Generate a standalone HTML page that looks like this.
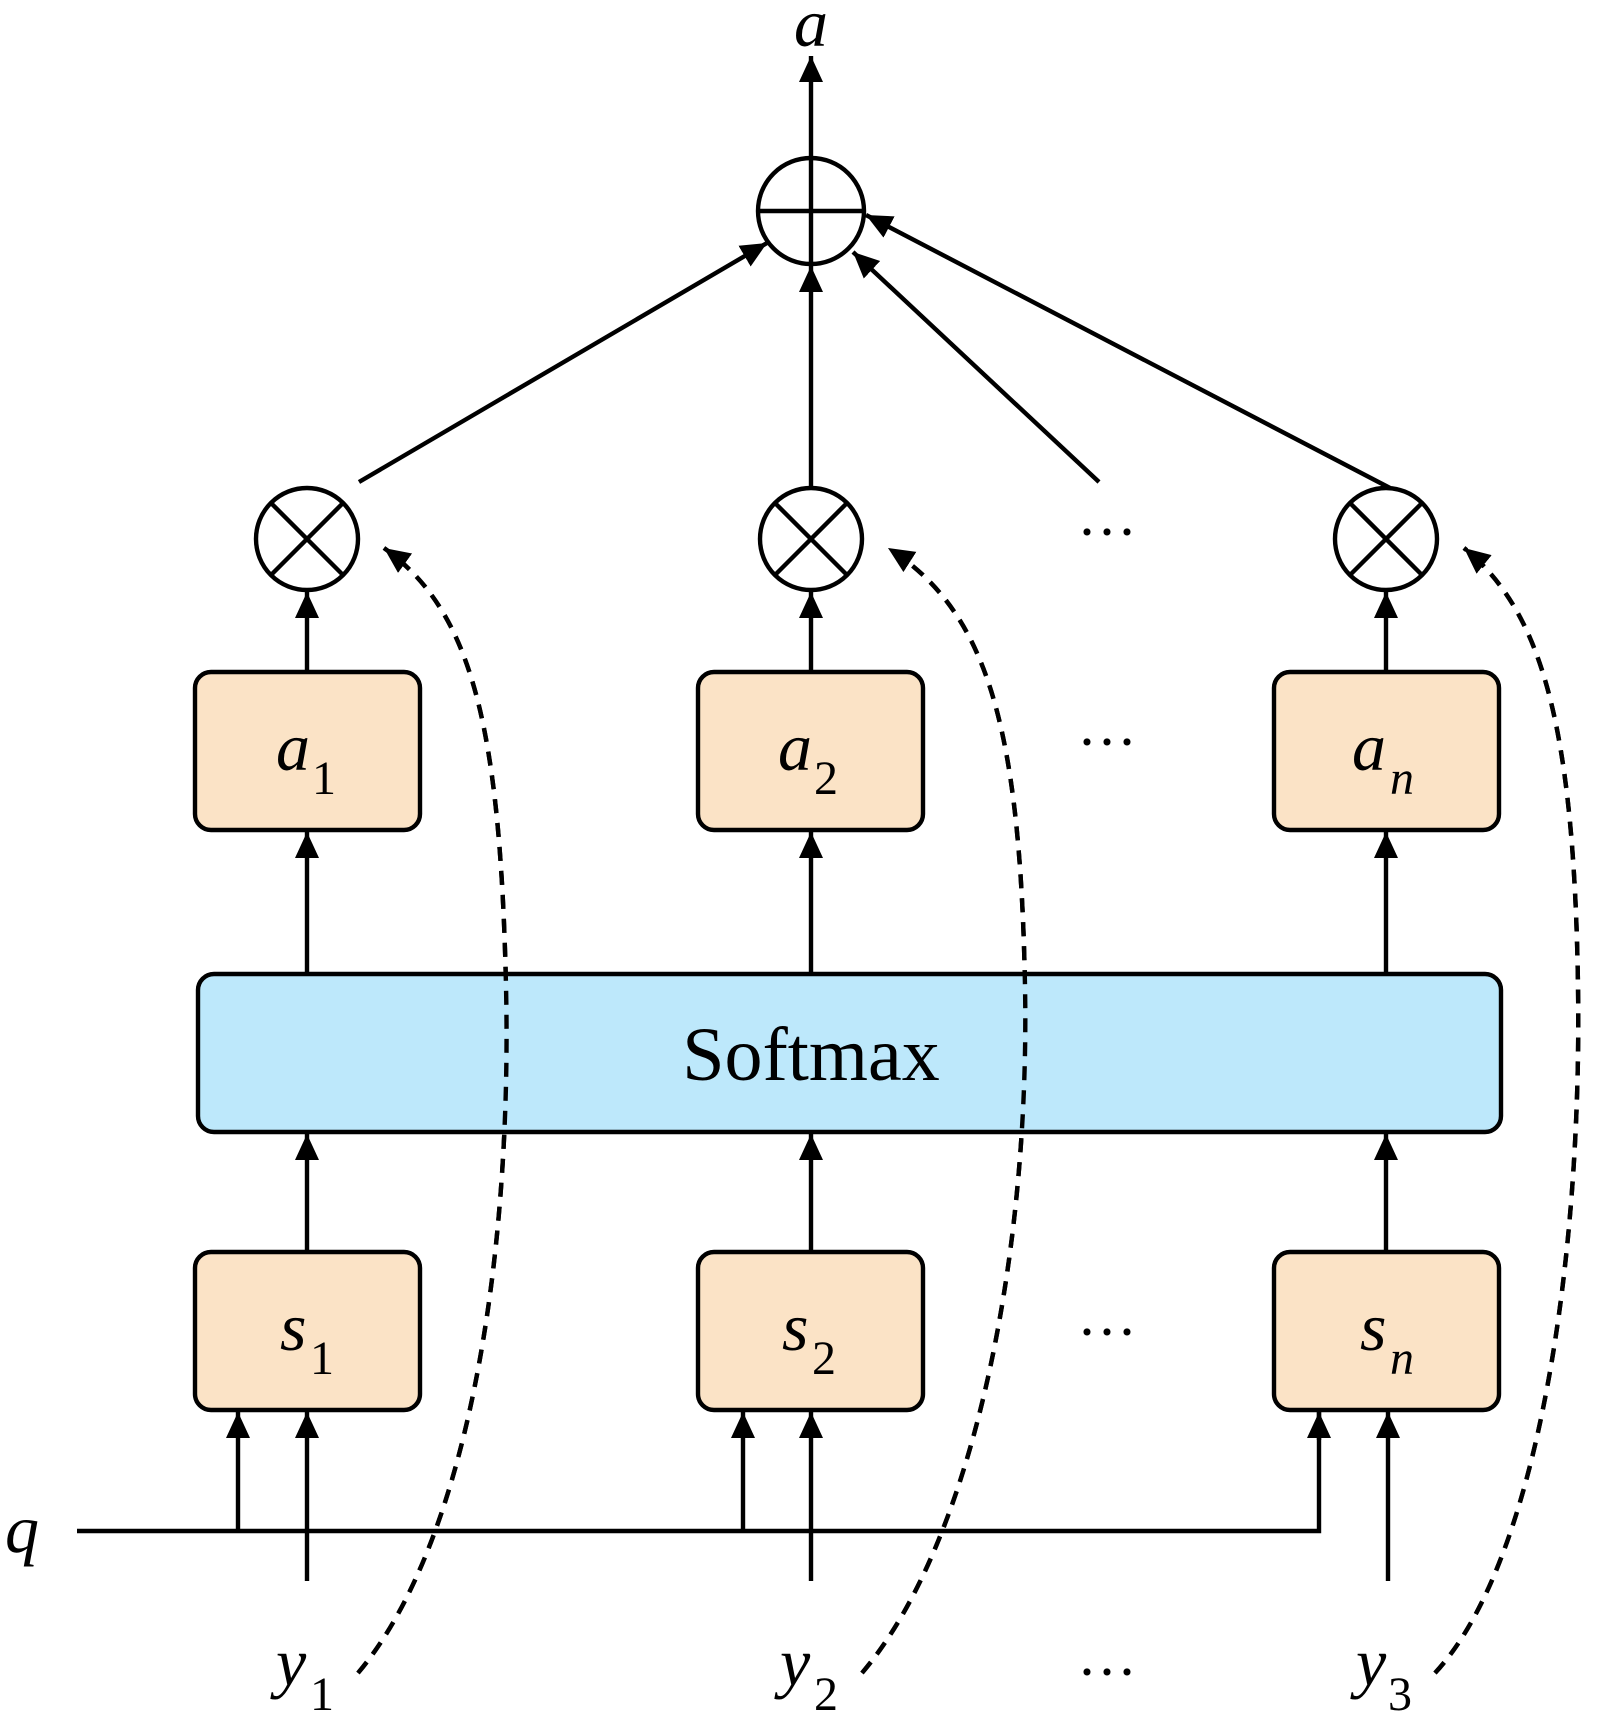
<!DOCTYPE html>
<html><head><meta charset="utf-8"><style>
html,body{margin:0;padding:0;background:#fff}
svg{display:block}
text{font-family:"Liberation Serif",serif;fill:#000}
.i{font-style:italic}
</style></head><body>
<svg width="1602" height="1716" viewBox="0 0 1602 1716" xmlns="http://www.w3.org/2000/svg">
<defs>
<marker id="ar" markerUnits="userSpaceOnUse" markerWidth="30" markerHeight="30" refX="26" refY="12" orient="auto">
<path d="M0,0 L26,12 L0,24 z" fill="#000"/>
</marker>
</defs>
<g stroke="#000" stroke-width="4.4" fill="none">
<!-- top output -->
<line x1="811" y1="158" x2="811" y2="56" marker-end="url(#ar)"/>
<circle cx="811" cy="211" r="53"/>
<line x1="758" y1="211" x2="864" y2="211"/>
<line x1="811" y1="158" x2="811" y2="264"/>
<!-- connections to oplus -->
<line x1="359" y1="482" x2="767" y2="243" marker-end="url(#ar)"/>
<line x1="811" y1="488" x2="811" y2="266" marker-end="url(#ar)"/>
<line x1="1099" y1="482" x2="853" y2="252" marker-end="url(#ar)"/>
<line x1="1390" y1="488" x2="866" y2="215" marker-end="url(#ar)"/>
<!-- otimes -->
<g>
<circle cx="307" cy="539" r="51"/><line x1="271" y1="503" x2="343" y2="575"/><line x1="343" y1="503" x2="271" y2="575"/>
<circle cx="811" cy="539" r="51"/><line x1="775" y1="503" x2="847" y2="575"/><line x1="847" y1="503" x2="775" y2="575"/>
<circle cx="1386" cy="539" r="51"/><line x1="1350" y1="503" x2="1422" y2="575"/><line x1="1422" y1="503" x2="1350" y2="575"/>
</g>
<!-- a boxes to otimes -->
<line x1="307" y1="672" x2="307" y2="592" marker-end="url(#ar)"/>
<line x1="811" y1="672" x2="811" y2="592" marker-end="url(#ar)"/>
<line x1="1386" y1="672" x2="1386" y2="592" marker-end="url(#ar)"/>
<!-- softmax to a -->
<line x1="307" y1="974" x2="307" y2="832" marker-end="url(#ar)"/>
<line x1="811" y1="974" x2="811" y2="832" marker-end="url(#ar)"/>
<line x1="1386" y1="974" x2="1386" y2="832" marker-end="url(#ar)"/>
<!-- s to softmax -->
<line x1="307" y1="1252" x2="307" y2="1134" marker-end="url(#ar)"/>
<line x1="811" y1="1252" x2="811" y2="1134" marker-end="url(#ar)"/>
<line x1="1386" y1="1252" x2="1386" y2="1134" marker-end="url(#ar)"/>
<!-- q line -->
<polyline points="77,1531 1319,1531 1319,1412"/>
<line x1="238" y1="1531" x2="238" y2="1412" marker-end="url(#ar)"/>
<line x1="743" y1="1531" x2="743" y2="1412" marker-end="url(#ar)"/>
<line x1="1319" y1="1440" x2="1319" y2="1412" marker-end="url(#ar)"/>
<!-- y inputs -->
<line x1="307" y1="1581" x2="307" y2="1412" marker-end="url(#ar)"/>
<line x1="811" y1="1581" x2="811" y2="1412" marker-end="url(#ar)"/>
<line x1="1388" y1="1581" x2="1388" y2="1412" marker-end="url(#ar)"/>
<!-- dashed curves -->
<g stroke-dasharray="14,10">
<path d="M358,1673 C470,1540 512,1250 506,986 C500,720 470,610 384,548" marker-end="url(#ar)"/>
<path d="M862,1673 C975,1540 1030,1250 1025,986 C1020,720 985,610 888,548" marker-end="url(#ar)"/>
<path d="M1435,1673 C1540,1560 1582,1250 1578,986 C1574,720 1540,610 1464,548" marker-end="url(#ar)"/>
</g>
</g>
<!-- boxes -->
<g stroke="#000" stroke-width="4.4" fill="#FBE3C6">
<rect x="195" y="672" width="225" height="158" rx="16"/>
<rect x="698" y="672" width="225" height="158" rx="16"/>
<rect x="1274" y="672" width="225" height="158" rx="16"/>
<rect x="195" y="1252" width="225" height="158" rx="16"/>
<rect x="698" y="1252" width="225" height="158" rx="16"/>
<rect x="1274" y="1252" width="225" height="158" rx="16"/>
<rect x="198" y="974" width="1303" height="158" rx="16" fill="#BDE8FB"/>
</g>
<!-- redraw dashed over softmax (dashes visible over box) -->
<g stroke="#000" stroke-width="4.4" fill="none" stroke-dasharray="14,10">
<path d="M358,1673 C470,1540 512,1250 506,986 C500,720 470,610 384,548"/>
<path d="M862,1673 C975,1540 1030,1250 1025,986 C1020,720 985,610 888,548"/>
<path d="M1435,1673 C1540,1560 1582,1250 1578,986 C1574,720 1540,610 1464,548"/>
</g>
<!-- labels -->
<text x="811" y="46" font-size="68" class="i" text-anchor="middle">a</text>
<text x="811" y="1080" font-size="76" text-anchor="middle">Softmax</text>
<text x="5" y="1552" font-size="68" class="i">q</text>
<g font-size="68">
<text x="276" y="770" class="i">a</text><text x="312" y="794" font-size="48">1</text>
<text x="778" y="770" class="i">a</text><text x="814" y="794" font-size="48">2</text>
<text x="1352" y="770" class="i">a</text><text x="1390" y="794" font-size="48" class="i">n</text>
<text x="280" y="1350" class="i">s</text><text x="310" y="1374" font-size="48">1</text>
<text x="782" y="1350" class="i">s</text><text x="812" y="1374" font-size="48">2</text>
<text x="1360" y="1350" class="i">s</text><text x="1390" y="1374" font-size="48" class="i">n</text>
<text x="276" y="1685" class="i">y</text><text x="310" y="1710" font-size="48">1</text>
<text x="780" y="1685" class="i">y</text><text x="814" y="1710" font-size="48">2</text>
<text x="1356" y="1685" class="i">y</text><text x="1388" y="1710" font-size="48">3</text>
</g>
<g font-size="60" text-anchor="middle">
<text x="1107" y="552">···</text>
<text x="1107" y="762">···</text>
<text x="1107" y="1352">···</text>
<text x="1107" y="1692">···</text>
</g>
</svg>
</body></html>
